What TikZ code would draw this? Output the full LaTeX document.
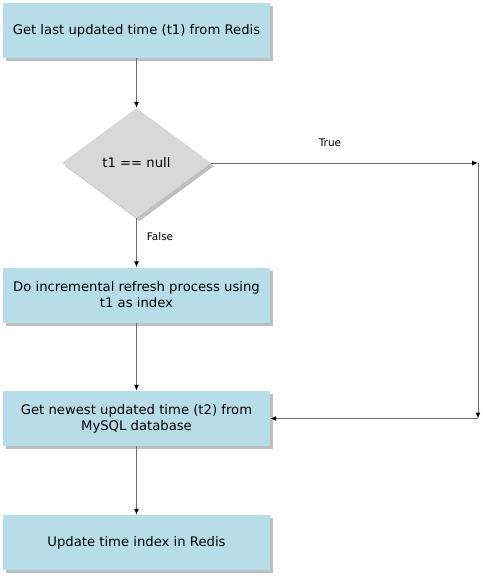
\documentclass[tikz,border=0pt]{standalone}
\usepackage{fontspec}
\setmainfont{DejaVu Sans}
\usetikzlibrary{shapes.geometric,shadows,arrows.meta}
\definecolor{boxblue}{RGB}{183,221,232}
\definecolor{diagray}{RGB}{216,216,216}
\definecolor{linegray}{RGB}{110,110,110}

\begin{document}
\begin{tikzpicture}[x=1pt, y=-1pt,
  stepbox/.style={rectangle, fill=boxblue, minimum width=267pt, minimum height=55pt,
    inner sep=2pt, align=center, font=\fontsize{13.2}{16}\selectfont,
    drop shadow={shadow xshift=3pt, shadow yshift=-3pt, fill=black, opacity=.25}},
  testbox/.style={diamond, fill=diagray, minimum width=149pt, minimum height=110pt,
    inner sep=0pt, font=\fontsize{13.2}{16}\selectfont,
    drop shadow={shadow xshift=3pt, shadow yshift=-3pt, fill=black, opacity=.25}},
  flow/.style={draw=linegray, line width=1pt, -{Latex[length=6pt, width=5pt, color=black]}},
  tag/.style={font=\fontsize{10.5}{12}\selectfont}]
  \useasboundingbox (0,0) rectangle (482,578);
  %The flow chart boxes, top to bottom
  \node[stepbox] (redis) at (136.5,30.5) {Get last updated time (t1) from Redis};
  \node[testbox] (test) at (136.5,163) {t1 == null};
  \node[stepbox] (refresh) at (136.5,295) {Do incremental refresh process using\\t1 as index};
  \node[stepbox] (newest) at (136.5,418.5) {Get newest updated time (t2) from\\MySQL database};
  \node[stepbox] (update) at (136.5,542.5) {Update time index in Redis};
  %Corners of the true branch
  \coordinate (tr) at (478,163);
  \coordinate (br) at (478,418.5);
  \draw[flow] (redis) -- (test);
  \draw[flow] (test) -- (refresh);
  \draw[flow] (refresh) -- (newest);
  \draw[flow] (newest) -- (update);
  \draw[flow] (test.east) -- (tr);
  \draw[flow] (tr) -- (br);
  \draw[flow] (br) -- (newest.east);
  \node[tag] (truetag) at (330,143) {True};
  \node[tag] (falsetag) at (160,237) {False};
\end{tikzpicture}
\end{document}
